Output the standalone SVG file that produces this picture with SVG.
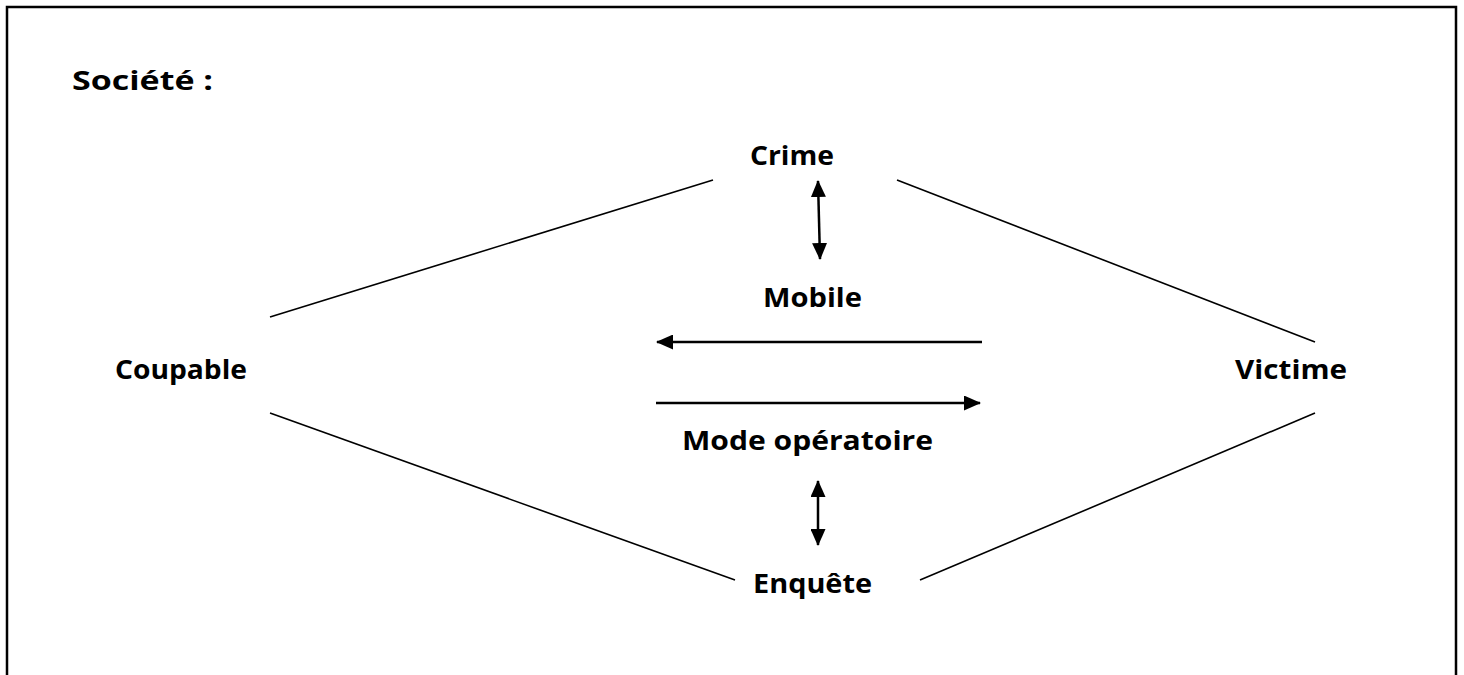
<svg xmlns="http://www.w3.org/2000/svg" width="1464" height="675" viewBox="0 0 1464 675">
  <style>
    .lbl { font-family: "Open Sans", "DejaVu Sans", sans-serif; font-weight: 700; font-size: 27px; fill: #000; }
    .edge { stroke: #000; stroke-width: 1.6; fill: none; }
    .arr { stroke: #000; stroke-width: 2.5; fill: none; }
  </style>
  <defs>
    <marker id="ah" markerUnits="userSpaceOnUse" markerWidth="17" markerHeight="15" refX="16" refY="7.5" orient="auto-start-reverse">
      <path d="M0,0 L17,7.5 L0,15 z" fill="#000"/>
    </marker>
  </defs>
  <rect width="1464" height="675" fill="#fff"/>
  <path d="M7,680 L7,7 L1456,7 L1456,680" fill="none" stroke="#000" stroke-width="2.5"/>

  <g id="title"><text class="lbl" x="72" y="90" textLength="141" lengthAdjust="spacingAndGlyphs">Société :</text></g>
  <g id="crime"><text class="lbl" x="750" y="165" textLength="84" lengthAdjust="spacingAndGlyphs">Crime</text></g>
  <g id="mobile"><text class="lbl" x="763" y="307" textLength="99" lengthAdjust="spacingAndGlyphs">Mobile</text></g>
  <g id="coupable"><text class="lbl" x="115" y="379" textLength="132" lengthAdjust="spacingAndGlyphs">Coupable</text></g>
  <g id="victime"><text class="lbl" x="1235" y="379" textLength="112" lengthAdjust="spacingAndGlyphs">Victime</text></g>
  <g id="mode"><text class="lbl" x="682" y="450" textLength="251" lengthAdjust="spacingAndGlyphs">Mode opératoire</text></g>
  <g id="enquete"><text class="lbl" x="753" y="593" textLength="119" lengthAdjust="spacingAndGlyphs">Enquête</text></g>

  <g id="connectors">
    <line class="edge" x1="270" y1="317" x2="713" y2="180"/>
    <line class="edge" x1="897" y1="180" x2="1315" y2="342"/>
    <line class="edge" x1="270" y1="413" x2="735" y2="580"/>
    <line class="edge" x1="920" y1="580" x2="1315" y2="413"/>
    <line class="arr" x1="818" y1="181" x2="820" y2="259" marker-start="url(#ah)" marker-end="url(#ah)"/>
    <line class="arr" x1="818" y1="481" x2="818" y2="545" marker-start="url(#ah)" marker-end="url(#ah)"/>
    <line class="arr" x1="982" y1="342" x2="657" y2="342" marker-end="url(#ah)"/>
    <line class="arr" x1="656" y1="403" x2="980" y2="403" marker-end="url(#ah)"/>
  </g>
</svg>
